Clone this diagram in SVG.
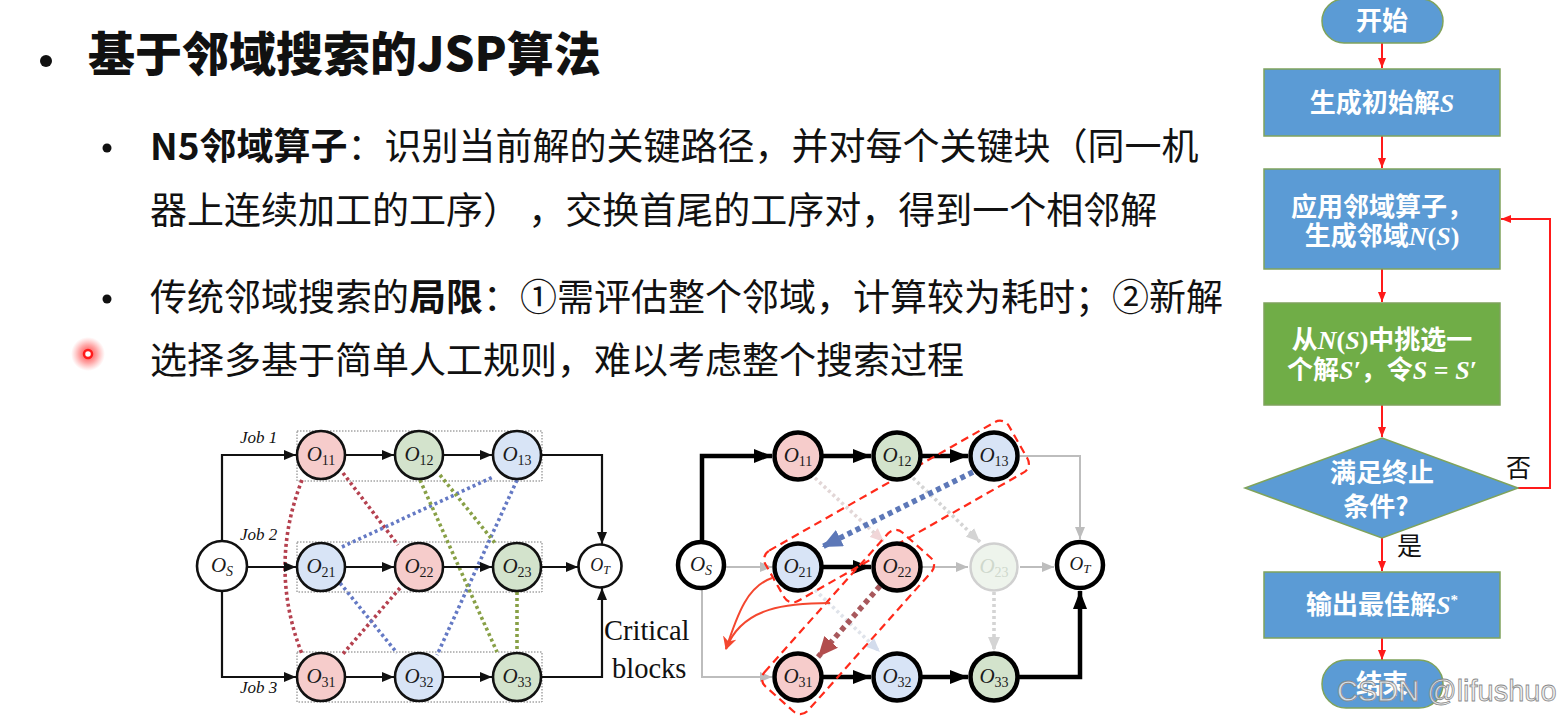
<svg xmlns="http://www.w3.org/2000/svg" width="1559" height="719" viewBox="0 0 1559 719">
<defs>
<style>
.cn{font-family:"Noto Sans CJK SC","Noto Sans",sans-serif;fill:#111}
.ti{font-size:47px;font-weight:900}
.bd{font-size:37px}
.b{font-weight:bold}
.ol{font-family:"Liberation Serif","DejaVu Serif",serif;font-style:italic;font-size:21px;fill:#1a1a1a;text-anchor:middle}
.sub{font-style:normal;font-size:14px}
.subi{font-style:italic;font-size:14px}
.job{font-family:"Liberation Serif",serif;font-style:italic;font-size:17px;fill:#111}
.nl{stroke:#111;stroke-width:2.6}
.nr{stroke:#000;stroke-width:4.5}
.red{fill:#f6cccb}.grn{fill:#d3e3cc}.blu{fill:#d8e4f6}.wht{fill:#fff}
.el{fill:none;stroke:#111;stroke-width:2.2}
.er{fill:none;stroke:#000;stroke-width:4.5}
.eg{fill:none;stroke:#bdbdbd;stroke-width:2}
.dot{fill:none;stroke-width:3.6;stroke-dasharray:3 3}
.frm{fill:none;stroke:#777;stroke-width:1;stroke-dasharray:1.5 1.5}
.blk{fill:none;stroke:#ff2a1a;stroke-width:2.2;stroke-dasharray:8 5}
.fc{stroke:#7fa35c;stroke-width:1.5}
.ft{font-family:"Noto Sans CJK SC","Noto Sans",sans-serif;font-size:26px;font-weight:bold;fill:#fff;text-anchor:middle}
.mi{font-family:"Liberation Serif",serif;font-style:italic}
.mu{font-family:"Liberation Serif",serif;font-style:normal}
.fa{fill:none;stroke:#ff1a1a;stroke-width:2}
</style>
<marker id="al" viewBox="0 0 12 10" refX="12" refY="5" markerWidth="12" markerHeight="10" markerUnits="userSpaceOnUse" orient="auto"><path d="M0,0 L12,5 L0,10 z" fill="#111"/></marker>
<marker id="ar" viewBox="0 0 18 14" refX="18" refY="7" markerWidth="18" markerHeight="14" markerUnits="userSpaceOnUse" orient="auto"><path d="M0,0 L18,7 L0,14 z" fill="#000"/></marker>
<marker id="ag" viewBox="0 0 12 10" refX="12" refY="5" markerWidth="12" markerHeight="10" markerUnits="userSpaceOnUse" orient="auto"><path d="M0,0 L12,5 L0,10 z" fill="#bdbdbd"/></marker>
<marker id="ap" viewBox="0 0 14 12" refX="14" refY="6" markerWidth="14" markerHeight="12" markerUnits="userSpaceOnUse" orient="auto"><path d="M0,0 L14,6 L0,12 z" fill="#f1d6d8"/></marker>
<marker id="agr" viewBox="0 0 14 12" refX="14" refY="6" markerWidth="14" markerHeight="12" markerUnits="userSpaceOnUse" orient="auto"><path d="M0,0 L14,6 L0,12 z" fill="#d4d4d4"/></marker>
<marker id="abl" viewBox="0 0 14 12" refX="14" refY="6" markerWidth="14" markerHeight="12" markerUnits="userSpaceOnUse" orient="auto"><path d="M0,0 L14,6 L0,12 z" fill="#d3dcec"/></marker>
<marker id="ab" viewBox="0 0 20 18" refX="20" refY="9" markerWidth="20" markerHeight="18" markerUnits="userSpaceOnUse" orient="auto"><path d="M0,0 L20,9 L0,18 z" fill="#5d78b8"/></marker>
<marker id="abr" viewBox="0 0 20 18" refX="20" refY="9" markerWidth="20" markerHeight="18" markerUnits="userSpaceOnUse" orient="auto"><path d="M0,0 L20,9 L0,18 z" fill="#b24d4d"/></marker>
<marker id="af" viewBox="0 0 10 8" refX="10" refY="4" markerWidth="10" markerHeight="8" markerUnits="userSpaceOnUse" orient="auto"><path d="M0,0 L10,4 L0,8 z" fill="#ff1a1a"/></marker>
<marker id="ac" viewBox="0 0 14 14" refX="12" refY="7" markerWidth="14" markerHeight="14" markerUnits="userSpaceOnUse" orient="auto"><path d="M0,0 L13,7 L0,14 L4,7 z" fill="#f4472f"/></marker>
<radialGradient id="glow"><stop offset="0" stop-color="#ff2020" stop-opacity="0.9"/><stop offset="0.55" stop-color="#ff4040" stop-opacity="0.45"/><stop offset="1" stop-color="#ff6060" stop-opacity="0"/></radialGradient>
</defs>
<rect width="1559" height="719" fill="#fff"/>

<g id="text-block">
<circle cx="46" cy="61" r="6" fill="#111"/>
<text class="cn ti" x="88" y="71">基于邻域搜索的JSP算法</text>
<circle cx="107" cy="148" r="4.5" fill="#111"/>
<text class="cn bd" x="150" y="160"><tspan class="b">N5邻域算子</tspan>：识别当前解的关键路径，并对每个关键块（同一机</text>
<text class="cn bd" x="150" y="224">器上连续加工的工序） ，交换首尾的工序对，得到一个相邻解</text>
<circle cx="107" cy="299" r="4.5" fill="#111"/>
<text class="cn bd" x="150" y="311">传统邻域搜索的<tspan class="b">局限</tspan>：①需评估整个邻域，计算较为耗时；②新解</text>
<text class="cn bd" x="150" y="374">选择多基于简单人工规则，难以考虑整个搜索过程</text>
<circle cx="88" cy="354" r="17" fill="url(#glow)"/>
<circle cx="88" cy="354" r="4" fill="#fff" stroke="#ff1a1a" stroke-width="2.5"/>
</g>

<g id="left-graph">
<g id="left-frames">
<rect class="frm" x="297" y="431" width="245" height="50"/>
<rect class="frm" x="297" y="542" width="245" height="50"/>
<rect class="frm" x="297" y="652" width="245" height="50"/>
</g>
<g id="left-connectors">
<path class="dot" stroke="#b5414f" d="M343 473 L398 545"/>
<path class="dot" stroke="#b5414f" d="M302 480 Q268 567 302 654"/>
<path class="dot" stroke="#b5414f" d="M400 588 L342 655"/>
<path class="dot" stroke="#6479c4" d="M342 547 L493 477"/>
<path class="dot" stroke="#6479c4" d="M340 583 L397 653"/>
<path class="dot" stroke="#6479c4" d="M517 480 L437 655"/>
<path class="dot" stroke="#88a046" d="M440 475 L495 543"/>
<path class="dot" stroke="#88a046" d="M420 480 L497 652"/>
<path class="dot" stroke="#88a046" d="M517 592 L517 652"/>
<path class="el" marker-end="url(#al)" d="M222 541 V455 H296"/>
<path class="el" marker-end="url(#al)" d="M247 567 H296"/>
<path class="el" marker-end="url(#al)" d="M222 591 V677 H296"/>
<path class="el" marker-end="url(#al)" d="M345 455 H394"/>
<path class="el" marker-end="url(#al)" d="M443 455 H492"/>
<path class="el" marker-end="url(#al)" d="M345 567 H394"/>
<path class="el" marker-end="url(#al)" d="M443 567 H492"/>
<path class="el" marker-end="url(#al)" d="M345 677 H394"/>
<path class="el" marker-end="url(#al)" d="M443 677 H492"/>
<path class="el" marker-end="url(#al)" d="M541 455 H602 V544"/>
<path class="el" marker-end="url(#al)" d="M541 567 H578"/>
<path class="el" marker-end="url(#al)" d="M541 677 H602 V588"/>
</g>
<text class="job" x="240" y="443">Job 1</text>
<text class="job" x="240" y="540">Job 2</text>
<text class="job" x="240" y="693">Job 3</text>
<g id="L-OS"><circle class="nl wht" cx="222" cy="566" r="25"/><text class="ol" x="222" y="572">O<tspan class="subi" dy="4">S</tspan></text></g>
<g id="L-O11"><circle class="nl red" cx="321" cy="455" r="24"/><text class="ol" x="321" y="461">O<tspan class="sub" dy="4">11</tspan></text></g>
<g id="L-O12"><circle class="nl grn" cx="419" cy="455" r="24"/><text class="ol" x="419" y="461">O<tspan class="sub" dy="4">12</tspan></text></g>
<g id="L-O13"><circle class="nl blu" cx="517" cy="455" r="24"/><text class="ol" x="517" y="461">O<tspan class="sub" dy="4">13</tspan></text></g>
<g id="L-O21"><circle class="nl blu" cx="321" cy="567" r="24"/><text class="ol" x="321" y="573">O<tspan class="sub" dy="4">21</tspan></text></g>
<g id="L-O22"><circle class="nl red" cx="419" cy="567" r="24"/><text class="ol" x="419" y="573">O<tspan class="sub" dy="4">22</tspan></text></g>
<g id="L-O23"><circle class="nl grn" cx="517" cy="567" r="24"/><text class="ol" x="517" y="573">O<tspan class="sub" dy="4">23</tspan></text></g>
<g id="L-O31"><circle class="nl red" cx="321" cy="677" r="24"/><text class="ol" x="321" y="683">O<tspan class="sub" dy="4">31</tspan></text></g>
<g id="L-O32"><circle class="nl blu" cx="419" cy="677" r="24"/><text class="ol" x="419" y="683">O<tspan class="sub" dy="4">32</tspan></text></g>
<g id="L-O33"><circle class="nl grn" cx="517" cy="677" r="24"/><text class="ol" x="517" y="683">O<tspan class="sub" dy="4">33</tspan></text></g>
<g id="L-OT"><circle class="nl wht" cx="600" cy="566" r="21.5"/><text class="ol" x="600" y="571" style="font-size:18px">O<tspan class="subi" dy="3" style="font-size:12px">T</tspan></text></g>
</g>

<g id="critical-label">
<text x="604" y="640" font-family="Liberation Serif, serif" font-size="28.5" fill="#111">Critical</text>
<text x="612" y="678" font-family="Liberation Serif, serif" font-size="28.5" fill="#111">blocks</text>
</g>

<g id="right-graph">
<g id="right-connectors">
<path class="eg" marker-end="url(#ag)" d="M724 567 H772"/>
<path class="eg" marker-end="url(#ag)" d="M702 588 V677 H772"/>
<path class="eg" marker-end="url(#ag)" d="M1020 456 H1080 V539"/>
<path class="eg" marker-end="url(#ag)" d="M922 567 H968"/>
<path class="eg" marker-end="url(#ag)" d="M1020 567 H1054"/>
<path class="dot" stroke="#e2d6d6" d="M815 478 L884 542" marker-end="url(#ap)"/>
<path class="dot" stroke="#d4d4d4" d="M913 478 L980 542" marker-end="url(#agr)"/>
<path class="dot" stroke="#d4d4d4" d="M994 592 L994 651" marker-end="url(#agr)"/>
<path class="dot" stroke="#dfe3ea" d="M815 590 L880 652" marker-end="url(#abl)"/>
<path class="er" marker-end="url(#ar)" d="M702 542 V456 H772"/>
<path class="er" marker-end="url(#ar)" d="M822 456 H871"/>
<path class="er" marker-end="url(#ar)" d="M921 456 H968"/>
<path class="er" marker-end="url(#ar)" d="M822 567 H871"/>
<path class="er" marker-end="url(#ar)" d="M822 677 H871"/>
<path class="er" marker-end="url(#ar)" d="M921 677 H968"/>
<path class="er" marker-end="url(#ar)" d="M1018 677 H1080 V591"/>
<path fill="none" stroke="#5d78b8" stroke-width="5.5" stroke-dasharray="5 4" marker-end="url(#ab)" d="M973 472 L822 547"/>
<path fill="none" stroke="#a8585c" stroke-width="5.5" stroke-dasharray="5 4" marker-end="url(#abr)" d="M880 586 L818 657"/>
<rect class="blk" x="-140" y="-29" width="280" height="58" rx="10" transform="translate(896.5 511.5) rotate(-29.65)"/>
<rect class="blk" x="-103" y="-29" width="206" height="58" rx="10" transform="translate(848 622) rotate(-48.3)"/>
<path fill="none" stroke="#f4472f" stroke-width="2" d="M772 578 C748 586 738 612 726 649" marker-end="url(#ac)"/>
<path fill="none" stroke="#f4472f" stroke-width="2" d="M830 603 C790 603 742 606 726 649"/>
</g>
<g id="R-OS"><circle class="nr wht" cx="701" cy="565" r="23"/><text class="ol" x="701" y="571">O<tspan class="subi" dy="4">S</tspan></text></g>
<g id="R-O11"><circle class="nr red" cx="798" cy="456" r="23.5"/><text class="ol" x="798" y="462">O<tspan class="sub" dy="4">11</tspan></text></g>
<g id="R-O12"><circle class="nr grn" cx="897" cy="456" r="23.5"/><text class="ol" x="897" y="462">O<tspan class="sub" dy="4">12</tspan></text></g>
<g id="R-O13"><circle class="nr blu" cx="994" cy="456" r="23.5"/><text class="ol" x="994" y="462">O<tspan class="sub" dy="4">13</tspan></text></g>
<g id="R-O21"><circle class="nr blu" cx="798" cy="567" r="23.5"/><text class="ol" x="798" y="573">O<tspan class="sub" dy="4">21</tspan></text></g>
<g id="R-O22"><circle class="nr red" cx="897" cy="567" r="23.5"/><text class="ol" x="897" y="573">O<tspan class="sub" dy="4">22</tspan></text></g>
<g id="R-O23"><circle cx="994" cy="567" r="23.5" fill="#eef4ec" stroke="#d0d0d0" stroke-width="2.5"/><text class="ol" x="994" y="573" style="fill:#cfd8cc">O<tspan class="sub" dy="4">23</tspan></text></g>
<g id="R-O31"><circle class="nr red" cx="798" cy="677" r="23.5"/><text class="ol" x="798" y="683">O<tspan class="sub" dy="4">31</tspan></text></g>
<g id="R-O32"><circle class="nr blu" cx="897" cy="677" r="23.5"/><text class="ol" x="897" y="683">O<tspan class="sub" dy="4">32</tspan></text></g>
<g id="R-O33"><circle class="nr grn" cx="994" cy="677" r="23.5"/><text class="ol" x="994" y="683">O<tspan class="sub" dy="4">33</tspan></text></g>
<g id="R-OT"><circle class="nr wht" cx="1080" cy="565" r="23"/><text class="ol" x="1080" y="570" style="font-size:19px">O<tspan class="subi" dy="3" style="font-size:13px">T</tspan></text></g>
</g>

<g id="flow-connectors">
<path class="fa" marker-end="url(#af)" d="M1382 43 V68"/>
<path class="fa" marker-end="url(#af)" d="M1382 136 V168"/>
<path class="fa" marker-end="url(#af)" d="M1382 269 V302"/>
<path class="fa" marker-end="url(#af)" d="M1382 405 V437"/>
<path class="fa" marker-end="url(#af)" d="M1382 538 V571"/>
<path class="fa" marker-end="url(#af)" d="M1382 638 V660"/>
<path class="fa" marker-end="url(#af)" d="M1518 488 H1550 V219 H1501"/>
</g>
<g id="f-start"><rect class="fc" x="1322" y="-1" width="121" height="44" rx="22" fill="#5b9bd5"/><text class="ft" x="1382" y="30">开始</text></g>
<g id="f-init"><rect class="fc" x="1264" y="69" width="236" height="67" fill="#5b9bd5"/><text class="ft" x="1382" y="112">生成初始解<tspan class="mi">S</tspan></text></g>
<g id="f-apply"><rect class="fc" x="1264" y="169" width="236" height="100" fill="#5b9bd5"/><text class="ft" x="1382" y="216">应用邻域算子，</text><text class="ft" x="1382" y="245">生成邻域<tspan class="mi">N</tspan><tspan class="mu">(</tspan><tspan class="mi">S</tspan><tspan class="mu">)</tspan></text></g>
<g id="f-pick"><rect class="fc" x="1264" y="303" width="236" height="102" fill="#70ad47"/><text class="ft" x="1382" y="349">从<tspan class="mi">N</tspan><tspan class="mu">(</tspan><tspan class="mi">S</tspan><tspan class="mu">)</tspan>中挑选一</text><text class="ft" x="1382" y="379">个解<tspan class="mi">S′</tspan>，令<tspan class="mi">S</tspan><tspan class="mu"> = </tspan><tspan class="mi">S′</tspan></text></g>
<g id="f-cond"><path class="fc" d="M1382 438 L1518 488 L1382 538 L1245 488 Z" fill="#5b9bd5"/><text class="ft" x="1382" y="482">满足终止</text><text class="ft" x="1376" y="516">条件?</text></g>
<text x="1506" y="477" font-family="Noto Sans CJK SC, sans-serif" font-size="25" fill="#111">否</text>
<text x="1397" y="555" font-family="Noto Sans CJK SC, sans-serif" font-size="25" fill="#111">是</text>
<g id="f-out"><rect class="fc" x="1264" y="572" width="236" height="66" fill="#5b9bd5"/><text class="ft" x="1382" y="614">输出最佳解<tspan class="mi">S</tspan><tspan class="mu" dy="-9" style="font-size:15px">*</tspan></text></g>
<g id="f-end"><rect class="fc" x="1322" y="660" width="121" height="48" rx="24" fill="#5b9bd5"/><text class="ft" x="1382" y="693">结束</text></g>
<text x="1337" y="701" font-family="Liberation Sans, Arial, sans-serif" font-size="29" fill="#ececec" fill-opacity="0.85" stroke="#8a8a8a" stroke-width="0.8">CSDN @lifushuo</text>
</svg>
